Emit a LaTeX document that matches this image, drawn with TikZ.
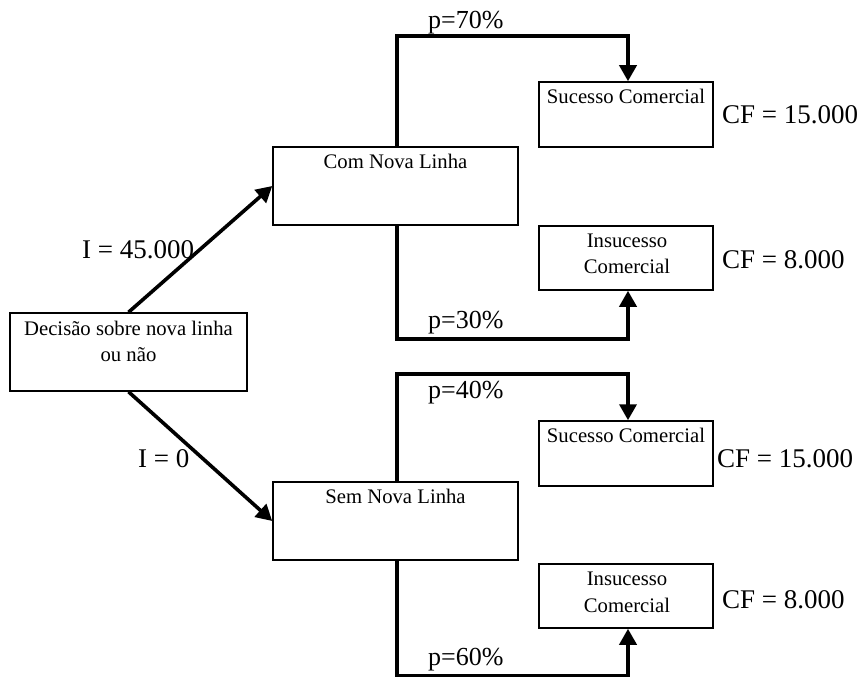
\documentclass[tikz,border=0pt]{standalone}
\usepackage{fontspec}
\setmainfont{Liberation Serif}
\usetikzlibrary{arrows.meta}
\begin{document}
\begin{tikzpicture}[x=1pt,y=-1pt,
  box/.style={draw, line width=1.5pt, inner sep=0pt},
  boxtext/.style={anchor=base, inner sep=0pt, font=\fontsize{20.7}{24}\selectfont},
  lab/.style={anchor=base west, inner sep=0pt, font=\fontsize{27}{30}\selectfont},
  plab/.style={anchor=base west, inner sep=0pt, font=\fontsize{26}{30}\selectfont},
  conn/.style={line width=3.6pt, -{Triangle[length=16pt,width=17pt]}}]
\useasboundingbox (0,0) rectangle (860,677);

% boxes
\node[box, minimum width=237pt, minimum height=78pt] (D) at (128.5,352) {};
\node[box, minimum width=245pt, minimum height=78pt] (C) at (395.5,186) {};
\node[box, minimum width=245pt, minimum height=78pt] (S) at (395.5,521) {};
\node[box, minimum width=174pt, minimum height=65pt] (SC1) at (626,114.5) {};
\node[box, minimum width=174pt, minimum height=64pt] (IC1) at (626,258) {};
\node[box, minimum width=174pt, minimum height=65pt] (SC2) at (626,453.5) {};
\node[box, minimum width=174pt, minimum height=64pt] (IC2) at (626,596) {};

% box texts
\node[boxtext] (tD1) at (128.5,335) {Decisão sobre nova linha};
\node[boxtext] (tD2) at (128.5,361) {ou não};
\node[boxtext] (tC) at (395.5,168) {Com Nova Linha};
\node[boxtext] (tS) at (395.5,503) {Sem Nova Linha};
\node[boxtext] (tSC1) at (626,103) {Sucesso Comercial};
\node[boxtext] (tIC1a) at (627,247) {Insucesso};
\node[boxtext] (tIC1b) at (627,273) {Comercial};
\node[boxtext] (tSC2) at (626,442) {Sucesso Comercial};
\node[boxtext] (tIC2a) at (627,585) {Insucesso};
\node[boxtext] (tIC2b) at (627,612) {Comercial};

% connectors
\draw[conn] (D.north) -- (C.west);
\draw[conn] (D.south) -- (S.west);
\draw[conn] ([xshift=1.5pt]C.north) -- ++(0,-110) -| ([xshift=2pt]SC1.north);
\draw[conn] ([xshift=1.5pt]C.south) -- ++(0,113) -| ([xshift=2pt]IC1.south);
\draw[conn] ([xshift=1.5pt]S.north) -- ++(0,-107) -| ([xshift=2pt]SC2.north);
\draw[conn] ([xshift=1.5pt]S.south) -- ++(0,115) -| ([xshift=2pt]IC2.south);

% labels
\node[lab] (l1) at (82,258) {I = 45.000};
\node[lab] (l2) at (138,467) {I = 0};
\node[plab] (p1) at (428,29) {p=70\%};
\node[plab] (p2) at (428,328) {p=30\%};
\node[plab] (p3) at (428,398) {p=40\%};
\node[plab] (p4) at (428,665) {p=60\%};
\node[lab] (cf1) at (722,124) {CF = 15.000};
\node[lab] (cf2) at (722,268) {CF = 8.000};
\node[lab] (cf3) at (717,467) {CF = 15.000};
\node[lab] (cf4) at (722,608) {CF = 8.000};
\end{tikzpicture}
\end{document}
